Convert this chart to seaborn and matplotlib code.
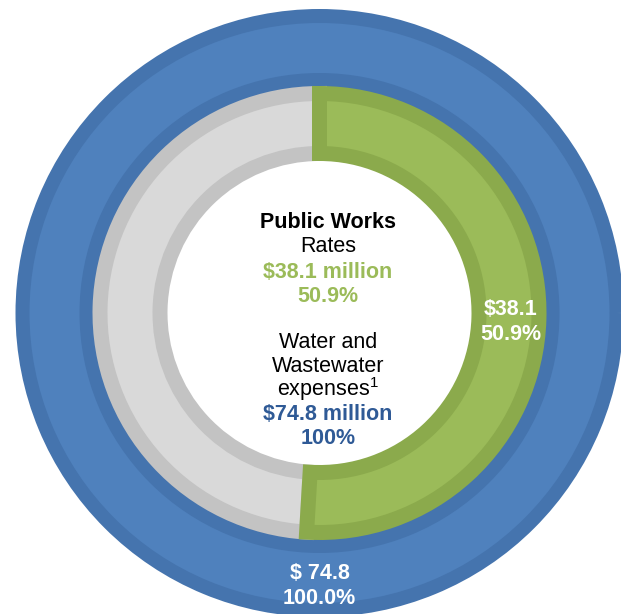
import matplotlib
matplotlib.use("Agg")
import matplotlib.pyplot as plt
import matplotlib.transforms as mtransforms
import seaborn as sns

# Water and wastewater expenses covered by Public Works rates ($ millions)
total_expenses = 74.8
rates_revenue = 38.1
inner_labels = ["Public Works Rates", "Other sources"]
inner_values = [rates_revenue, round(total_expenses - rates_revenue, 1)]
outer_labels = ["Water and Wastewater expenses"]
outer_values = [total_expenses]

rates_share = rates_revenue / total_expenses * 100

sns.set_theme(style="white")
plt.rcParams["font.family"] = ["Liberation Sans", "DejaVu Sans"]
plt.rcParams["mathtext.default"] = "regular"

BLUE, BLUE_EDGE = "#4F81BD", "#4574AE"
GREEN, GREEN_EDGE = "#9BBB59", "#8BAA4C"
GRAY, GRAY_EDGE = "#D9D9D9", "#C3C3C3"
NAVY_TEXT = "#2F5A96"
FS = 15.5

W, H = 621, 614
fig = plt.figure(figsize=(W / 100, H / 100), dpi=100)
ax = fig.add_axes([0, 0, 1, 1])
cx, cy = 319.5, H - 313


def px_to_pt(px):
    return px * 72 / 100


# ring geometry in pixels: outer radius, ring width, border band inside the ring
OUT_R, OUT_W, OUT_B = 304, 78, 7
IN_R, IN_W, IN_B = 227, 75, 7.5

label_style = dict(color="white", fontsize=FS, fontweight="bold",
                   ha="center", va="center", linespacing=1.25)

# Outer ring: total expenses (stroke centred on an inset outline -> inner border)
ax.pie(
    outer_values, radius=OUT_R - OUT_B, center=(cx, cy), startangle=90,
    counterclock=False, colors=[BLUE],
    labels=[f"\\$ {total_expenses:.1f}\n100.0%"],
    labeldistance=273 / (OUT_R - OUT_B),
    wedgeprops=dict(width=OUT_W - 2 * OUT_B, edgecolor=BLUE_EDGE,
                    linewidth=px_to_pt(2 * OUT_B)),
    textprops=label_style,
)

# Inner ring: share paid by rates
inner_wedges, inner_texts = ax.pie(
    inner_values, radius=IN_R - IN_B, center=(cx, cy), startangle=90,
    counterclock=False, colors=[GREEN, GRAY],
    labels=[f"\\${rates_revenue:.1f}\n{rates_share:.1f}%", ""],
    labeldistance=191 / (IN_R - IN_B),
    wedgeprops=dict(width=IN_W - 2 * IN_B, linewidth=px_to_pt(2 * IN_B)),
    textprops=label_style,
)
inner_wedges[0].set_edgecolor(GREEN_EDGE)
inner_wedges[1].set_edgecolor(GRAY_EDGE)
inner_wedges[0].set_zorder(3)
inner_wedges[1].set_zorder(2)
# nudge the segment label slightly down
shift = mtransforms.ScaledTranslation(0, -3 / 100, fig.dpi_scale_trans)
inner_texts[0].set_transform(inner_texts[0].get_transform() + shift)

# Center legend text
tx = 328
center_lines = [
    ("Public Works", "black", "bold", 228),
    ("Rates", "black", "normal", 252.5),
    (f"\\${rates_revenue:.1f} million", GREEN, "bold", 277.5),
    (f"{rates_share:.1f}%", GREEN, "bold", 302),
    ("Water and", "black", "normal", 347.5),
    ("Wastewater", "black", "normal", 372),
    ("expenses$^{1}$", "black", "normal", 396),
    (f"\\${total_expenses:.1f} million", NAVY_TEXT, "bold", 420),
    ("100%", NAVY_TEXT, "bold", 444),
]
for text, color, weight, base in center_lines:
    ax.text(tx, H - base, text, color=color, fontweight=weight, fontsize=FS,
            ha="center", va="baseline", zorder=5)

ax.set_xlim(0, W)
ax.set_ylim(0, H)
ax.set_aspect("auto")
ax.axis("off")

fig.savefig("out.png", dpi=100, facecolor="white")
